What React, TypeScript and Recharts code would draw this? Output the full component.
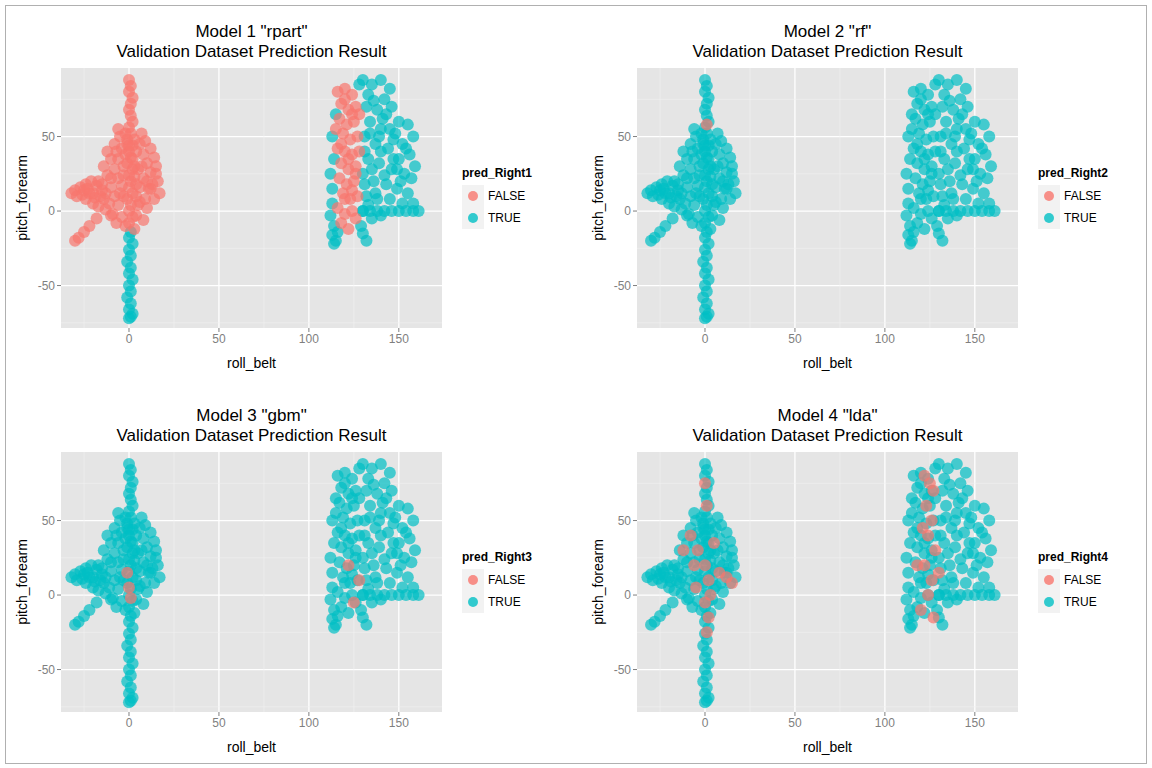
import React from "react";
import { ScatterChart, Scatter, XAxis, YAxis, CartesianGrid, ReferenceLine } from "recharts";

type P = [number, number];
const spineTop: P[] = [[0,88],[1,84],[0,80],[2,76],[1,72],[0,68],[1,64],[2,60],[0,56],[1,52],[-1,48],[2,44],[0,40],[1,36],[-1,32],[2,28],[0,24],[1,20],[0,16],[2,12],[-1,8],[1,4],[0,0],[2,-4],[0,-8]];
const spineBottom: P[] = [[1,-14],[0,-18],[2,-22],[0,-26],[1,-30],[-1,-34],[1,-38],[0,-42],[2,-46],[0,-50],[1,-54],[-1,-58],[1,-62],[0,-66],[2,-69],[0,-72],[1,-71]];
const blob: P[] = [[-5,50],[-2,52],[3,48],[6,45],[9,47],[12,42],[-8,45],[-12,40],[-4,42],[4,40],[8,38],[14,36],[-10,35],[-6,35],[2,35],[10,32],[15,30],[-14,30],[-8,28],[-3,30],[5,28],[12,26],[-12,24],[-6,22],[3,23],[8,22],[16,20],[-15,18],[-10,16],[-4,17],[6,16],[11,15],[17,12],[-13,12],[-8,10],[-3,10],[4,10],[9,8],[14,8],[-11,5],[-6,4],[5,4],[10,2],[-9,-2],[-4,-4],[4,-3],[8,-6],[-2,-10],[3,-12],[-7,-8],[12,15],[15,25],[-1,45],[7,52],[-6,55],[-2,38],[3,30],[-10,22],[7,30],[-5,12],[0,44],[10,20],[-3,24],[6,6],[13,18],[-14,8],[-7,40],[4,18]];
const arm: P[] = [[-30,14],[-27,16],[-24,18],[-21,20],[-18,17],[-15,14],[-26,11],[-22,12],[-19,9],[-16,10],[-29,10],[-24,8],[-20,5],[-17,3],[-13,1],[-10,-3],[-18,-5],[-22,-10],[-25,-14],[-28,-18],[-30,-20],[-20,12],[-25,14],[-32,12],[-23,15],[-17,20]];
const rightStrip: P[] = [[116,80],[120,82],[124,78],[118,72],[122,68],[126,70],[117,62],[121,58],[125,60],[119,52],[123,48],[127,50],[116,42],[120,40],[124,38],[118,32],[122,28],[126,30],[117,22],[121,18],[125,20],[119,12],[123,8],[127,10],[116,2],[120,-2],[124,0],[118,-8],[122,-12],[126,-5],[128,40],[115,55],[128,65],[120,75],[124,65],[118,45],[122,35],[126,25],[120,8],[124,14]];
const rightRest: P[] = [[112,-3],[113,5],[114,-10],[115,-20],[114,-22],[113,15],[112,25],[114,35],[113,50],[115,65],[130,88],[135,85],[140,88],[145,82],[142,75],[133,78],[128,85],[132,70],[138,68],[146,70],[150,60],[155,58],[158,50],[152,45],[148,52],[140,55],[134,60],[131,50],[137,45],[144,42],[150,35],[156,38],[159,30],[153,25],[146,28],[139,32],[133,35],[130,25],[136,20],[143,18],[149,15],[155,12],[158,5],[152,5],[145,8],[138,8],[132,10],[130,0],[135,-5],[140,-3],[130,-15],[132,-20],[129,-10],[131,40],[141,62],[147,48],[157,22],[136,74],[143,65],[134,52],[140,40],[147,35],[135,28],[142,24],[151,20],[137,12],[131,18],[154,42],[149,28],[133,4],[139,50],[145,55],[116,-14],[113,-16]];
const line: P[] = [[130,0],[134,0],[138,0],[142,0],[146,0],[150,0],[154,0],[158,0],[161,0]];
const red4: P[] = [[-8,40],[-4,30],[0,20],[2,10],[-5,5],[3,0],[8,15],[12,12],[15,8],[-12,30],[0,-5],[2,-15],[1,-25],[1,60],[0,75],[-6,20],[5,35],[122,80],[125,75],[127,70],[123,60],[126,50],[124,40],[128,30],[122,20],[126,10],[124,0],[120,-10],[130,15],[127,-15],[118,20],[121,45]];
const red3: P[] = [[0,5],[1,-2],[-1,15],[122,20],[125,-5],[128,10]];
const red2: P[] = [[1,58]];
const all: P[] = [...spineTop, ...spineBottom, ...blob, ...arm, ...rightStrip, ...rightRest, ...line];

const xTicks = [0, 50, 100, 150];
const yTicks = [-50, 0, 50];
const xMinor = [-25, 25, 75, 125];
const yMinor = [-75, -25, 25, 75];
const RED = "#F8766D", TEAL = "#00BFC4";
const toObj = (a: P[]) => a.map(([x, y]) => ({ x, y }));

const panels = [
  { name: 'Model 1 "rpart"', legend: "pred_Right1", teal: [...spineBottom, ...rightRest, ...line], red: [...spineTop, ...blob, ...arm, ...rightStrip], left: 0, top: 0 },
  { name: 'Model 2 "rf"', legend: "pred_Right2", teal: all, red: red2, left: 576, top: 0 },
  { name: 'Model 3 "gbm"', legend: "pred_Right3", teal: all, red: red3, left: 0, top: 384 },
  { name: 'Model 4 "lda"', legend: "pred_Right4", teal: all, red: red4, left: 576, top: 384 },
];

const dot = (fill: string) => (props: any) => <circle cx={props.cx} cy={props.cy} r={6} fill={fill} fillOpacity={0.7} />;
const tickStyle = { fill: "#7F7F7F", fontSize: 12 };

function Panel({ p }: { p: typeof panels[number] }) {
  return (
    <div style={{ position: "absolute", left: p.left, top: p.top, width: 576, height: 384, fontFamily: "Liberation Sans, Arial, sans-serif" }}>
      <div style={{ position: "absolute", left: 61, width: 381, top: 22, textAlign: "center", fontSize: 17, lineHeight: "20px", color: "#000" }}>
        {p.name}<br />Validation Dataset Prediction Result
      </div>
      <ScatterChart width={576} height={384} margin={{ left: 31, top: 68, right: 134, bottom: 26 }}>
        <CartesianGrid fill="#E5E5E5" stroke="#fff" strokeWidth={1.3} verticalValues={xTicks} horizontalValues={yTicks} />
        {xMinor.map((v) => <ReferenceLine key={"x" + v} x={v} stroke="#F2F2F2" strokeWidth={0.6} />)}
        {yMinor.map((v) => <ReferenceLine key={"y" + v} y={v} stroke="#F2F2F2" strokeWidth={0.6} />)}
        <XAxis type="number" dataKey="x" domain={[-37.8, 174]} ticks={xTicks} allowDataOverflow height={30} tick={tickStyle} axisLine={false} tickLine={{ stroke: "#7F7F7F" }} tickSize={4} />
        <YAxis type="number" dataKey="y" domain={[-78.5, 96]} ticks={yTicks} allowDataOverflow width={30} tick={tickStyle} axisLine={false} tickLine={{ stroke: "#7F7F7F" }} tickSize={4} />
        <Scatter data={toObj(p.teal)} shape={dot(TEAL)} isAnimationActive={false} />
        <Scatter data={toObj(p.red)} shape={dot(RED)} isAnimationActive={false} />
      </ScatterChart>
      <div style={{ position: "absolute", left: 61, width: 381, top: 355, textAlign: "center", fontSize: 14 }}>roll_belt</div>
      <div style={{ position: "absolute", left: 22, top: 198, transform: "translate(-50%,-50%) rotate(-90deg)", fontSize: 14, whiteSpace: "nowrap" }}>pitch_forearm</div>
      <div style={{ position: "absolute", left: 462, top: 166, fontSize: 12, fontWeight: "bold" }}>{p.legend}</div>
      {[["FALSE", RED, 185], ["TRUE", TEAL, 207]].map(([t, c, y]) => (
        <div key={t as string} style={{ position: "absolute", left: 462, top: y as number, height: 22, display: "flex", alignItems: "center" }}>
          <div style={{ width: 22, height: 22, background: "#F2F2F2", display: "flex", alignItems: "center", justifyContent: "center" }}>
            <div style={{ width: 10, height: 10, borderRadius: 5, background: c as string, opacity: 0.8 }} />
          </div>
          <span style={{ fontSize: 12, marginLeft: 4 }}>{t}</span>
        </div>
      ))}
    </div>
  );
}

export default function App() {
  return (
    <div style={{ position: "absolute", left: 0, top: 0, width: 1152, height: 768, background: "#fff" }}>
      <div style={{ position: "absolute", left: 5, top: 5, width: 1140, height: 757, border: "1px solid #B0B0B0" }} />
      {panels.map((p) => <Panel key={p.legend} p={p} />)}
    </div>
  );
}
